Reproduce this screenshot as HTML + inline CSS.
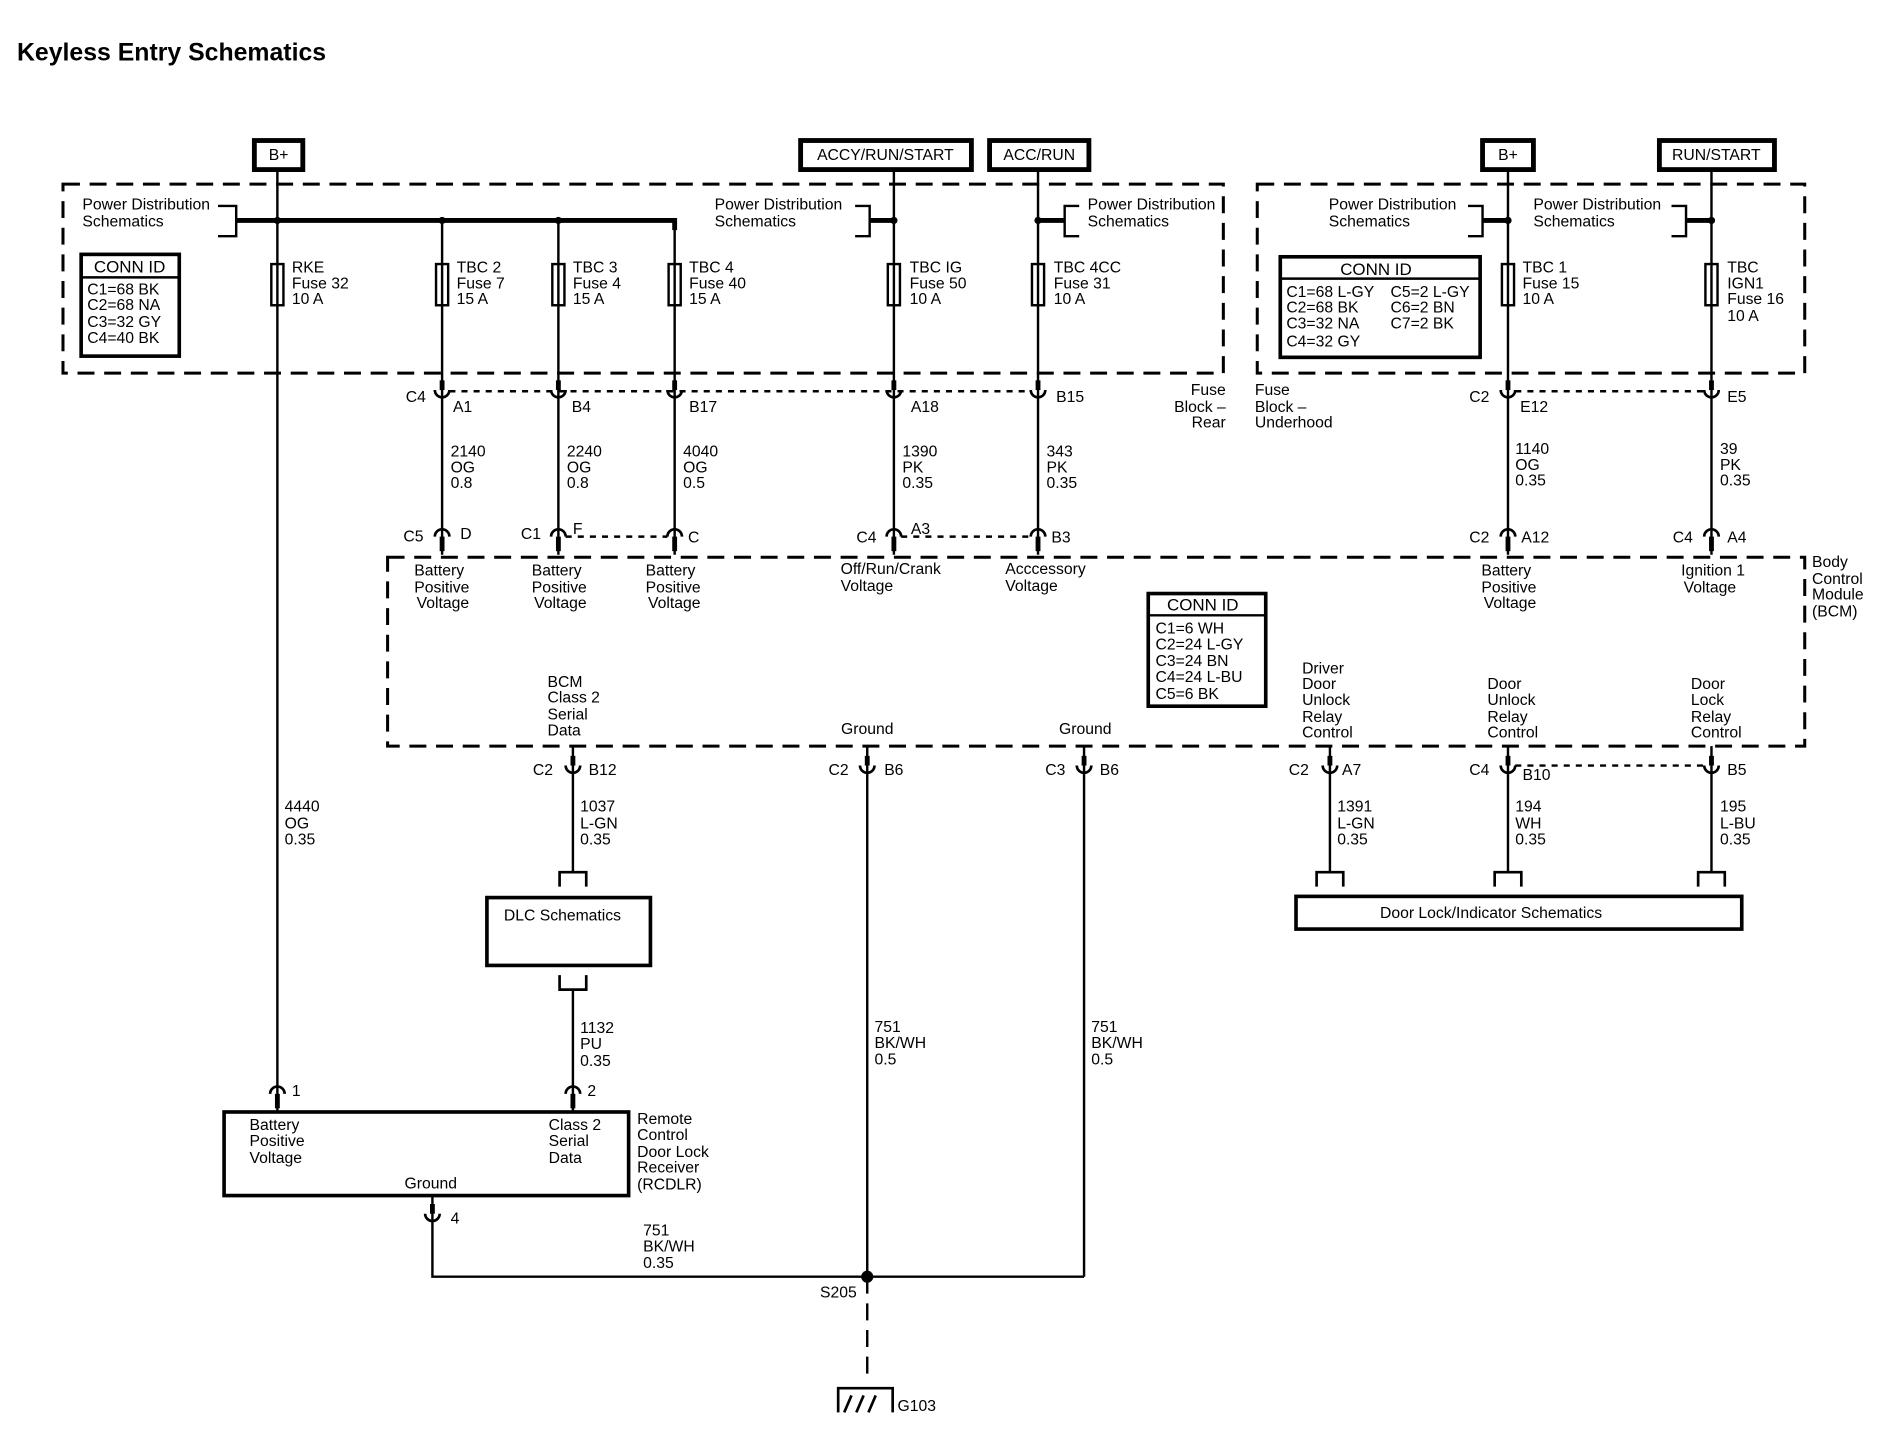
<!DOCTYPE html>
<html><head><meta charset="utf-8"><style>
html,body{margin:0;padding:0;background:#fff;}
svg{display:block;}
text{font-family:"Liberation Sans",sans-serif;font-size:13px;fill:#000;letter-spacing:0px;}
</style></head><body>
<svg width="1898" height="1456" viewBox="0 0 1567 1202" preserveAspectRatio="none" xmlns="http://www.w3.org/2000/svg">
<defs>
<g id="cu"><line x1="0" y1="-14" x2="0" y2="-6" stroke="#000" stroke-width="4"/><path d="M-6,-6 A6,6 0 0 0 6,-6" fill="none" stroke="#000" stroke-width="2.2"/></g>
<g id="cn"><line x1="0" y1="6" x2="0" y2="18" stroke="#000" stroke-width="4"/><path d="M-6,6 A6,6 0 0 1 6,6" fill="none" stroke="#000" stroke-width="2.2"/></g>
<g id="fuse"><rect x="-5" y="0" width="10" height="34" fill="#fff" stroke="#000" stroke-width="2"/><line x1="0" y1="0" x2="0" y2="34" stroke="#000" stroke-width="2"/></g>
<g id="tin"><path d="M-11,12 V0 H11 V12" fill="none" stroke="#000" stroke-width="2.2"/></g>
<g id="tout"><path d="M-11,0 V12 H11 V0" fill="none" stroke="#000" stroke-width="2.2"/></g>
</defs>
<text x="14" y="50" style="font-size:20.5px;font-weight:bold;">Keyless Entry Schematics</text>

<g fill="#fff" stroke="#000" stroke-width="4">
<rect x="210" y="116" width="40" height="24"/>
<rect x="661" y="116" width="141" height="24"/>
<rect x="817" y="116" width="82" height="24"/>
<rect x="1224" y="116" width="42" height="24"/>
<rect x="1370" y="116" width="95" height="24"/>
</g>
<g text-anchor="middle">
<text x="230" y="132">B+</text>
<text x="731" y="132">ACCY/RUN/START</text>
<text x="858" y="132">ACC/RUN</text>
<text x="1245" y="132">B+</text>
<text x="1417" y="132">RUN/START</text>
</g>

<g fill="none" stroke="#000" stroke-width="2.5" stroke-dasharray="14,8">
<rect x="52" y="152" width="958" height="156"/>
<rect x="1038" y="152" width="452" height="156"/>
<rect x="320" y="460" width="1170" height="156"/>
</g>

<g stroke="#000" stroke-width="2" fill="none">
<line x1="229" y1="140" x2="229" y2="918"/>
<line x1="365" y1="182" x2="365" y2="458"/>
<line x1="461" y1="182" x2="461" y2="458"/>
<line x1="557" y1="182" x2="557" y2="458"/>
<line x1="738" y1="140" x2="738" y2="458"/>
<line x1="857" y1="140" x2="857" y2="458"/>
<line x1="1245" y1="140" x2="1245" y2="458"/>
<line x1="1413" y1="140" x2="1413" y2="458"/>
<line x1="473" y1="616" x2="473" y2="720"/>
<line x1="473" y1="817" x2="473" y2="918"/>
<line x1="716" y1="616" x2="716" y2="1054"/>
<line x1="895" y1="616" x2="895" y2="1054"/>
<line x1="1098" y1="616" x2="1098" y2="720"/>
<line x1="1245" y1="616" x2="1245" y2="720"/>
<line x1="1413" y1="616" x2="1413" y2="720"/>
<path d="M357,988 V1054 H895"/>
<line x1="716" y1="1054" x2="716" y2="1140" stroke-dasharray="14,8"/>
</g>
<g stroke="#000" stroke-width="4" fill="none">
<path d="M195,182 H557 V190"/>
<line x1="718" y1="182" x2="738" y2="182"/>
<line x1="857" y1="182" x2="879" y2="182"/>
<line x1="1224" y1="182" x2="1245" y2="182"/>
<line x1="1392" y1="182" x2="1413" y2="182"/>
</g>
<g stroke="#000" stroke-width="2" fill="none">
<path d="M180,170 H195 V195 H180"/>
<path d="M706,170 H718 V195 H706"/>
<path d="M891,170 H879 V195 H891"/>
<path d="M1212,170 H1224 V195 H1212"/>
<path d="M1380,170 H1392 V195 H1380"/>
</g>
<g fill="#000">
<circle cx="229" cy="182" r="3"/><circle cx="365" cy="182" r="3"/><circle cx="461" cy="182" r="3"/>
<circle cx="738" cy="182" r="3"/><circle cx="857" cy="182" r="3"/><circle cx="1245" cy="182" r="3"/><circle cx="1413" cy="182" r="3"/>
<circle cx="716" cy="1054" r="5"/>
</g>
<text x="68" y="173">Power Distribution</text><text x="68" y="187">Schematics</text>
<text x="590" y="173">Power Distribution</text><text x="590" y="187">Schematics</text>
<text x="898" y="173">Power Distribution</text><text x="898" y="187">Schematics</text>
<text x="1097" y="173">Power Distribution</text><text x="1097" y="187">Schematics</text>
<text x="1266" y="173">Power Distribution</text><text x="1266" y="187">Schematics</text>

<use href="#fuse" x="229" y="218"/><use href="#fuse" x="365" y="218"/><use href="#fuse" x="461" y="218"/><use href="#fuse" x="557" y="218"/>
<use href="#fuse" x="738" y="218"/><use href="#fuse" x="857" y="218"/><use href="#fuse" x="1245" y="218"/><use href="#fuse" x="1413" y="218"/>
<text x="241" y="225">RKE</text><text x="241" y="238">Fuse 32</text><text x="241" y="251">10 A</text>
<text x="377" y="225">TBC 2</text><text x="377" y="238">Fuse 7</text><text x="377" y="251">15 A</text>
<text x="473" y="225">TBC 3</text><text x="473" y="238">Fuse 4</text><text x="473" y="251">15 A</text>
<text x="569" y="225">TBC 4</text><text x="569" y="238">Fuse 40</text><text x="569" y="251">15 A</text>
<text x="751" y="225">TBC IG</text><text x="751" y="238">Fuse 50</text><text x="751" y="251">10 A</text>
<text x="870" y="225">TBC 4CC</text><text x="870" y="238">Fuse 31</text><text x="870" y="251">10 A</text>
<text x="1257" y="225">TBC 1</text><text x="1257" y="238">Fuse 15</text><text x="1257" y="251">10 A</text>
<text x="1426" y="225">TBC</text><text x="1426" y="238">IGN1</text><text x="1426" y="251">Fuse 16</text><text x="1426" y="265">10 A</text>

<g fill="none" stroke="#000">
<rect x="67" y="210" width="81" height="84" stroke-width="3"/><line x1="67" y1="229" x2="148" y2="229" stroke-width="2"/>
<rect x="1057" y="212" width="165" height="83" stroke-width="3"/><line x1="1057" y1="230" x2="1222" y2="230" stroke-width="2"/>
<rect x="948" y="490" width="97" height="93" stroke-width="3"/><line x1="948" y1="508" x2="1045" y2="508" stroke-width="2"/>
</g>
<text x="107" y="225" text-anchor="middle" style="font-size:14px">CONN ID</text>
<text x="72" y="243">C1=68 BK</text><text x="72" y="256">C2=68 NA</text><text x="72" y="270">C3=32 GY</text><text x="72" y="283">C4=40 BK</text>
<text x="1136" y="227" text-anchor="middle" style="font-size:14px">CONN ID</text>
<text x="1062" y="245">C1=68 L-GY</text><text x="1062" y="258">C2=68 BK</text><text x="1062" y="271">C3=32 NA</text><text x="1062" y="286">C4=32 GY</text>
<text x="1148" y="245">C5=2 L-GY</text><text x="1148" y="258">C6=2 BN</text><text x="1148" y="271">C7=2 BK</text>
<text x="993" y="504" text-anchor="middle" style="font-size:14px">CONN ID</text>
<text x="954" y="523">C1=6 WH</text><text x="954" y="536">C2=24 L-GY</text><text x="954" y="550">C3=24 BN</text><text x="954" y="563">C4=24 L-BU</text><text x="954" y="577">C5=6 BK</text>

<g stroke="#000" stroke-width="2" stroke-dasharray="5,5" fill="none">
<line x1="371" y1="323" x2="851" y2="323"/>
<line x1="1251" y1="323" x2="1407" y2="323"/>
<line x1="467" y1="443" x2="551" y2="443"/>
<line x1="744" y1="443" x2="851" y2="443"/>
<line x1="1251" y1="632" x2="1407" y2="632"/>
</g>
<use href="#cu" x="365" y="328"/><use href="#cu" x="461" y="328"/><use href="#cu" x="557" y="328"/><use href="#cu" x="738" y="328"/><use href="#cu" x="857" y="328"/><use href="#cu" x="1245" y="328"/><use href="#cu" x="1413" y="328"/>
<text x="335" y="332">C4</text><text x="374" y="340">A1</text><text x="472" y="340">B4</text><text x="569" y="340">B17</text><text x="752" y="340">A18</text><text x="872" y="332">B15</text>
<text x="1213" y="332">C2</text><text x="1255" y="340">E12</text><text x="1426" y="332">E5</text>
<text x="1012" y="326" text-anchor="end">Fuse</text><text x="1012" y="340" text-anchor="end">Block –</text><text x="1012" y="353" text-anchor="end">Rear</text>
<text x="1036" y="326">Fuse</text><text x="1036" y="340">Block –</text><text x="1036" y="353">Underhood</text>

<text x="372" y="377">2140</text><text x="372" y="390">OG</text><text x="372" y="403">0.8</text>
<text x="468" y="377">2240</text><text x="468" y="390">OG</text><text x="468" y="403">0.8</text>
<text x="564" y="377">4040</text><text x="564" y="390">OG</text><text x="564" y="403">0.5</text>
<text x="745" y="377">1390</text><text x="745" y="390">PK</text><text x="745" y="403">0.35</text>
<text x="864" y="377">343</text><text x="864" y="390">PK</text><text x="864" y="403">0.35</text>
<text x="1251" y="375">1140</text><text x="1251" y="388">OG</text><text x="1251" y="401">0.35</text>
<text x="1420" y="375">39</text><text x="1420" y="388">PK</text><text x="1420" y="401">0.35</text>

<use href="#cn" x="365" y="437"/><use href="#cn" x="461" y="437"/><use href="#cn" x="557" y="437"/><use href="#cn" x="738" y="437"/><use href="#cn" x="857" y="437"/><use href="#cn" x="1245" y="437"/><use href="#cn" x="1413" y="437"/>
<text x="333" y="447">C5</text><text x="380" y="445">D</text>
<text x="430" y="445">C1</text><text x="473" y="441">F</text>
<text x="568" y="448">C</text>
<text x="707" y="448">C4</text><text x="752" y="441">A3</text>
<text x="868" y="448">B3</text>
<text x="1213" y="448">C2</text><text x="1256" y="448">A12</text>
<text x="1381" y="448">C4</text><text x="1426" y="448">A4</text>

<text x="342" y="475">Battery</text><text x="342" y="489">Positive</text><text x="344" y="502">Voltage</text>
<text x="439" y="475">Battery</text><text x="439" y="489">Positive</text><text x="441" y="502">Voltage</text>
<text x="533" y="475">Battery</text><text x="533" y="489">Positive</text><text x="535" y="502">Voltage</text>
<text x="694" y="474">Off/Run/Crank</text><text x="694" y="488">Voltage</text>
<text x="830" y="474">Acccessory</text><text x="830" y="488">Voltage</text>
<text x="1223" y="475">Battery</text><text x="1223" y="489">Positive</text><text x="1225" y="502">Voltage</text>
<text x="1388" y="475">Ignition 1</text><text x="1390" y="489">Voltage</text>
<text x="1496" y="468">Body</text><text x="1496" y="482">Control</text><text x="1496" y="495">Module</text><text x="1496" y="509">(BCM)</text>
<text x="452" y="567">BCM</text><text x="452" y="580">Class 2</text><text x="452" y="594">Serial</text><text x="452" y="607">Data</text>
<text x="716" y="606" text-anchor="middle">Ground</text>
<text x="896" y="606" text-anchor="middle">Ground</text>
<text x="1075" y="556">Driver</text><text x="1075" y="569">Door</text><text x="1075" y="582">Unlock</text><text x="1075" y="596">Relay</text><text x="1075" y="609">Control</text>
<text x="1228" y="569">Door</text><text x="1228" y="582">Unlock</text><text x="1228" y="596">Relay</text><text x="1228" y="609">Control</text>
<text x="1396" y="569">Door</text><text x="1396" y="582">Lock</text><text x="1396" y="596">Relay</text><text x="1396" y="609">Control</text>

<use href="#cu" x="473" y="638"/><use href="#cu" x="716" y="638"/><use href="#cu" x="895" y="638"/><use href="#cu" x="1098" y="638"/><use href="#cu" x="1245" y="638"/><use href="#cu" x="1413" y="638"/>
<text x="440" y="640">C2</text><text x="486" y="640">B12</text>
<text x="684" y="640">C2</text><text x="730" y="640">B6</text>
<text x="863" y="640">C3</text><text x="908" y="640">B6</text>
<text x="1064" y="640">C2</text><text x="1108" y="640">A7</text>
<text x="1213" y="640">C4</text><text x="1257" y="644">B10</text>
<text x="1426" y="640">B5</text>

<text x="479" y="670">1037</text><text x="479" y="684">L-GN</text><text x="479" y="697">0.35</text>
<text x="235" y="670">4440</text><text x="235" y="684">OG</text><text x="235" y="697">0.35</text>
<text x="1104" y="670">1391</text><text x="1104" y="684">L-GN</text><text x="1104" y="697">0.35</text>
<text x="1251" y="670">194</text><text x="1251" y="684">WH</text><text x="1251" y="697">0.35</text>
<text x="1420" y="670">195</text><text x="1420" y="684">L-BU</text><text x="1420" y="697">0.35</text>

<use href="#tin" x="473" y="720"/><use href="#tout" x="473" y="805"/>
<use href="#tin" x="1098" y="720"/><use href="#tin" x="1245" y="720"/><use href="#tin" x="1413" y="720"/>
<rect x="402" y="741" width="135" height="56" fill="#fff" stroke="#000" stroke-width="3"/>
<text x="416" y="760">DLC Schematics</text>
<rect x="1070" y="740" width="368" height="27" fill="#fff" stroke="#000" stroke-width="3"/>
<text x="1231" y="758" text-anchor="middle">Door Lock/Indicator Schematics</text>

<text x="479" y="853">1132</text><text x="479" y="866">PU</text><text x="479" y="880">0.35</text>
<text x="722" y="852">751</text><text x="722" y="865">BK/WH</text><text x="722" y="879">0.5</text>
<text x="901" y="852">751</text><text x="901" y="865">BK/WH</text><text x="901" y="879">0.5</text>

<use href="#cn" x="229" y="897"/><use href="#cn" x="473" y="897"/>
<text x="241" y="905">1</text><text x="485" y="905">2</text>
<rect x="185" y="918" width="334" height="69" fill="#fff" stroke="#000" stroke-width="3"/>
<text x="206" y="933">Battery</text><text x="206" y="946">Positive</text><text x="206" y="960">Voltage</text>
<text x="453" y="933">Class 2</text><text x="453" y="946">Serial</text><text x="453" y="960">Data</text>
<text x="334" y="981">Ground</text>
<text x="526" y="928">Remote</text><text x="526" y="941">Control</text><text x="526" y="955">Door Lock</text><text x="526" y="968">Receiver</text><text x="526" y="982">(RCDLR)</text>
<use href="#cu" x="357" y="1008"/>
<text x="372" y="1010">4</text>
<text x="531" y="1020">751</text><text x="531" y="1033">BK/WH</text><text x="531" y="1047">0.35</text>
<text x="677" y="1071">S205</text>

<g stroke="#000" stroke-width="2.2" fill="none">
<path d="M692,1166 V1146 H737 V1166"/>
<line x1="697" y1="1166" x2="703" y2="1152"/><line x1="707" y1="1166" x2="713" y2="1152"/><line x1="717" y1="1166" x2="723" y2="1152"/>
</g>
<text x="741" y="1165">G103</text>
</svg>
</body></html>
